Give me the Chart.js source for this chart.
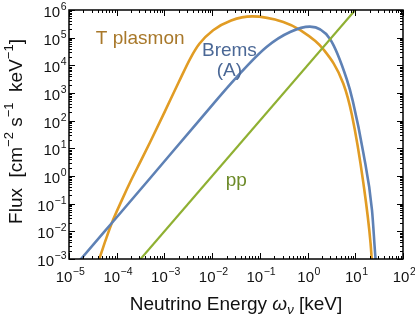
<!DOCTYPE html>
<html>
<head>
<meta charset="utf-8">
<script src="https://cdn.jsdelivr.net/npm/chart.js@4.4.1/dist/chart.umd.min.js"></script>
<style>
  html, body { margin: 0; padding: 0; background: #fff; }
  #wrap { width: 415px; height: 316px; }
</style>
</head>
<body>
<div id="wrap"><canvas id="myChart"></canvas></div>
<script>
// values (energy in keV, flux in cm^-2 s^-1 keV^-1)
const plasmonE    = [3.5e-5, 4.3e-5, 5.9e-5, 7.9e-5, 1.26e-4, 2.0e-4, 3.2e-4, 5.0e-4, 1.0e-3, 2.0e-3, 3.5e-3, 5.4e-3, 1.05e-2, 2.5e-2, 6.9e-2, 0.31, 0.69, 2.14, 5.6, 8.5, 14.8, 20.9, 22.9];
const plasmonFlux = [4e-4, 1e-3, 5e-3, 2.0e-2, 0.126, 0.7, 3.5, 16.6, 200, 2.5e3, 1.8e4, 6.0e4, 1.86e5, 4.2e5, 5.9e5, 3.7e5, 1.9e5, 3.8e4, 2.2e3, 160, 0.54, 3.7e-3, 4e-4];

const bremsE    = [1.12e-5, 1.78e-5, 7.9e-5, 5.0e-4, 5.6e-3, 3.2e-2, 0.138, 0.43, 1.12, 2.95, 6.6, 8.9, 14.8, 22.4, 26.3, 28.2];
const bremsFlux = [4e-4, 1e-3, 2.0e-2, 0.83, 112, 3.6e3, 4.6e4, 1.6e5, 2.5e5, 8.9e4, 3.2e3, 500, 6.6, 5.9e-2, 1.26e-3, 3.2e-4];

const ppE    = [1e-4, 1e2];
const ppFlux = [1e-4, 1e8];

const xTicks = [1e-5, 1e-4, 1e-3, 1e-2, 1e-1, 1e0, 1e1, 1e2];
const yTicks = [1e-3, 1e-2, 1e-1, 1e0, 1e1, 1e2, 1e3, 1e4, 1e5, 1e6];

function pts(xs, ys) {
    return xs.map((x, i) => ({ x: x, y: ys[i] }));
}

const seriesLabels = [
    { lines: ['T plasmon'], x: 3.1e-4, y: 9.5e4, color: '#a8782a' },
    { lines: ['Brems', '(A)'], x: 2.3e-2, y: 3.5e4, color: '#4b6896' },
    { lines: ['pp'], x: 3.2e-2, y: 0.7, color: '#6c8a28' }
];

const FONT = '"Liberation Sans", Arial, sans-serif';

function powerLabel(ctx, exp, x, y, align) {
    const base = '10', sup = String(exp).replace('-', '\u2212');
    ctx.font = '15px ' + FONT;
    const wb = ctx.measureText(base).width;
    ctx.font = '10.5px ' + FONT;
    const ws = ctx.measureText(sup).width;
    const w = wb + ws;
    let left = align === 'right' ? x - w : x - w / 2;
    ctx.textAlign = 'left';
    ctx.textBaseline = 'middle';
    ctx.font = '15px ' + FONT;
    ctx.fillText(base, left, y);
    ctx.font = '10.5px ' + FONT;
    ctx.fillText(sup, left + wb + 0.5, y - 6);
}

const framePlugin = {
    id: 'frame',
    afterDraw(chart) {
        const ctx = chart.ctx;
        const a = chart.chartArea;
        const xs = chart.scales.x, ys = chart.scales.y;
        ctx.save();
        ctx.strokeStyle = '#000';
        ctx.fillStyle = '#000';

        // frame
        ctx.lineWidth = 1.5;
        ctx.strokeRect(a.left, a.top, a.right - a.left, a.bottom - a.top);

        // inward ticks on all four sides
        ctx.lineWidth = 1;
        ctx.beginPath();
        for (let e = -5; e <= 2; e++) {
            for (let m = 1; m <= 9; m++) {
                const v = m * Math.pow(10, e);
                if (v > 100.0001) continue;
                const px = Math.round(xs.getPixelForValue(v)) + 0.5;
                const len = m === 1 ? 6 : 3;
                ctx.moveTo(px, a.bottom); ctx.lineTo(px, a.bottom - len);
                ctx.moveTo(px, a.top); ctx.lineTo(px, a.top + len);
            }
        }
        for (let e = -3; e <= 6; e++) {
            for (let m = 1; m <= 9; m++) {
                const v = m * Math.pow(10, e);
                if (v > 1e6 * 1.0001) continue;
                const py = Math.round(ys.getPixelForValue(v)) + 0.5;
                const len = m === 1 ? 6 : 3;
                ctx.moveTo(a.left, py); ctx.lineTo(a.left + len, py);
                ctx.moveTo(a.right, py); ctx.lineTo(a.right - len, py);
            }
        }
        ctx.stroke();

        // tick labels
        ctx.fillStyle = '#111';
        xTicks.forEach(v => {
            powerLabel(ctx, Math.round(Math.log10(v)), xs.getPixelForValue(v) + 1, a.bottom + 19, 'center');
        });
        yTicks.forEach(v => {
            powerLabel(ctx, Math.round(Math.log10(v)), a.left - 3, ys.getPixelForValue(v) + 3, 'right');
        });

        // x title: Neutrino Energy ω_ν [keV]
        ctx.textBaseline = 'alphabetic';
        ctx.textAlign = 'left';
        const tf = '19px ' + FONT;
        const parts = [
            { t: 'Neutrino Energy ', f: tf, dy: 0 },
            { t: '\u03c9', f: 'italic ' + tf, dy: 0 },
            { t: '\u03bd', f: 'italic 13px ' + FONT, dy: 4 },
            { t: ' [keV]', f: tf, dy: 0 }
        ];
        let tw = 0;
        parts.forEach(p => { ctx.font = p.f; p.w = ctx.measureText(p.t).width; tw += p.w; });
        let cx = 236 - tw / 2;
        parts.forEach(p => { ctx.font = p.f; ctx.fillText(p.t, cx, 310 + p.dy); cx += p.w; });

        // y title: Flux [cm^-2 s^-1 keV^-1]
        ctx.save();
        ctx.translate(22, 131.5);
        ctx.rotate(-Math.PI / 2);
        const sf = '13px ' + FONT;
        const yparts = [
            { t: 'Flux  [cm', f: tf, dy: 0 },
            { t: '\u22122', f: sf, dy: -9 },
            { t: ' s', f: tf, dy: 0 },
            { t: '\u22121', f: sf, dy: -9 },
            { t: '  keV', f: tf, dy: 0 },
            { t: '\u22121', f: sf, dy: -9 },
            { t: ']', f: tf, dy: 0 }
        ];
        tw = 0;
        yparts.forEach(p => { ctx.font = p.f; p.w = ctx.measureText(p.t).width; tw += p.w; });
        cx = -tw / 2;
        yparts.forEach(p => { ctx.font = p.f; ctx.fillText(p.t, cx, p.dy); cx += p.w; });
        ctx.restore();

        // series labels
        ctx.textAlign = 'center';
        ctx.textBaseline = 'middle';
        ctx.font = '19px ' + FONT;
        seriesLabels.forEach(l => {
            ctx.fillStyle = l.color;
            const px = xs.getPixelForValue(l.x), py = ys.getPixelForValue(l.y);
            l.lines.forEach((s, i) => ctx.fillText(s, px, py + i * 20));
        });
        ctx.restore();
    }
};

new Chart(document.getElementById('myChart'), {
    type: 'line',
    data: {
        datasets: [
            {
                label: 'pp',
                data: pts(ppE, ppFlux),
                borderColor: '#8fb032',
                borderWidth: 2.2,
                pointRadius: 0,
                tension: 0,
                order: 0
            },
            {
                label: 'Brems (A)',
                data: pts(bremsE, bremsFlux),
                borderColor: '#5e81b5',
                borderWidth: 2.6,
                pointRadius: 0,
                cubicInterpolationMode: 'monotone',
                order: 1
            },
            {
                label: 'T plasmon',
                data: pts(plasmonE, plasmonFlux),
                borderColor: '#e19c24',
                borderWidth: 2.6,
                pointRadius: 0,
                cubicInterpolationMode: 'monotone',
                order: 2
            }
        ]
    },
    options: {
        responsive: true,
        maintainAspectRatio: false,
        animation: false,
        layout: { padding: { top: 10, right: 12, left: 0, bottom: 0 } },
        plugins: {
            legend: { display: false },
            tooltip: { enabled: false }
        },
        scales: {
            x: {
                type: 'logarithmic',
                min: 1e-5,
                max: 1e2,
                grid: { display: false },
                border: { display: false },
                ticks: { display: false },
                afterFit: s => { s.height = 57; }
            },
            y: {
                type: 'logarithmic',
                min: 1e-3,
                max: 1e6,
                grid: { display: false },
                border: { display: false },
                ticks: { display: false },
                afterFit: s => { s.width = 69; }
            }
        }
    },
    plugins: [framePlugin]
});
</script>
</body>
</html>
